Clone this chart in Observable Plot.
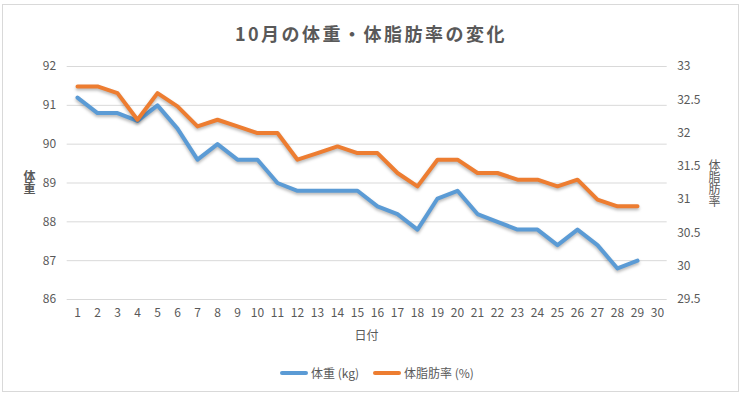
<!DOCTYPE html>
<html>
<head>
<meta charset="utf-8">
<script src="https://cdn.jsdelivr.net/npm/d3@7"></script>
<script src="https://cdn.jsdelivr.net/npm/@observablehq/plot@0.6"></script>
<style>
  html, body { margin: 0; padding: 0; background: #fff; }
  #wrap { position: relative; width: 746px; height: 399px; overflow: hidden;
          font-family: "Noto Sans CJK JP", "Noto Sans", sans-serif; color: #595959; }
  #frame { position: absolute; left: 2px; top: 4px; width: 737px; height: 388px;
           border: 1px solid #d9d9d9; box-sizing: border-box; }
  #title { position: absolute; left: 0; width: 742px; top: 19px; text-align: center;
           font-size: 18px; font-weight: bold; letter-spacing: 2.5px; line-height: 28px; }
  .vt { position: absolute; writing-mode: vertical-rl; text-orientation: upright;
        font-size: 12px; line-height: 14px; }
  #ytl { left: 22px; top: 170px; font-weight: bold; }
  #ytr { left: 707px; top: 159px; }
  #xt { position: absolute; left: 0; width: 733px; top: 326px; text-align: center; font-size: 12px; line-height: 18px; }
  #legend { position: absolute; top: 364px; left: 280px; font-size: 12px; line-height: 18px; display: flex; align-items: center; }
  .sw { display: inline-block; width: 28px; height: 4px; border-radius: 2px; margin-right: 3px; }
  .item { display: flex; align-items: center; }
  #chart { position: absolute; left: 0; top: 0; }
</style>
</head>
<body>
<div id="wrap">
  <div id="frame"></div>
  <div id="chart"></div>
  <div id="title">10月の体重・体脂肪率の変化</div>
  <div id="ytl" class="vt">体重</div>
  <div id="ytr" class="vt">体脂肪率</div>
  <div id="xt">日付</div>
  <div id="legend">
    <div class="item"><span class="sw" style="background:#5B9BD5"></span><span>体重 (kg)</span></div>
    <div class="item" style="margin-left:14px"><span class="sw" style="background:#ED7D31"></span><span>体脂肪率 (%)</span></div>
  </div>
</div>
<script>
const days = [1,2,3,4,5,6,7,8,9,10,11,12,13,14,15,16,17,18,19,20,21,22,23,24,25,26,27,28,29];
const xTicks = [1,2,3,4,5,6,7,8,9,10,11,12,13,14,15,16,17,18,19,20,21,22,23,24,25,26,27,28,29,30];
const weight = [91.2,90.8,90.8,90.6,91.0,90.4,89.6,90.0,89.6,89.6,89.0,88.8,88.8,88.8,88.8,88.4,88.2,87.8,88.6,88.8,88.2,88.0,87.8,87.8,87.4,87.8,87.4,86.8,87.0];
const bodyFat = [32.7,32.7,32.6,32.2,32.6,32.4,32.1,32.2,32.1,32.0,32.0,31.6,31.7,31.8,31.7,31.7,31.4,31.2,31.6,31.6,31.4,31.4,31.3,31.3,31.2,31.3,31.0,30.9,30.9];
const weightTicks = [86,87,88,89,90,91,92];
const fatTicks = [29.5,30,30.5,31,31.5,32,32.5,33];

const wDomain = [86, 92];
const fDomain = [29.5, 33];
// map secondary-axis values (body fat %) onto the primary y scale
const toW = f => wDomain[0] + (f - fDomain[0]) * (wDomain[1] - wDomain[0]) / (fDomain[1] - fDomain[0]);

const rows = days.map((d, i) => ({day: d, weight: weight[i], fat: bodyFat[i]}));

const chart = Plot.plot({
  width: 746,
  height: 399,
  marginLeft: 66.7,
  marginRight: 79.3,
  marginTop: 66,
  marginBottom: 100,
  style: {fontFamily: '"Noto Sans CJK JP", "Noto Sans", sans-serif', fontSize: "12px", color: "#595959", background: "transparent", overflow: "visible"},
  x: {type: "point", domain: xTicks, padding: 0.5, label: null},
  y: {domain: wDomain, label: null},
  marks: [
    Plot.gridY(weightTicks, {stroke: "#d9d9d9", strokeOpacity: 1, strokeWidth: 1}),
    Plot.axisY(weightTicks, {anchor: "left", tickSize: 0, tickPadding: 11, label: null}),
    Plot.text(fatTicks, {y: d => toW(d), text: d => String(d), frameAnchor: "right", textAnchor: "start", dx: 10, fill: "#595959"}),
    Plot.axisX(xTicks, {anchor: "bottom", tickSize: 0, tickPadding: 9, label: null}),
    Plot.line(rows, {x: "day", y: "weight", stroke: "#5B9BD5", strokeWidth: 4, strokeLinejoin: "round", strokeLinecap: "round"}),
    Plot.line(rows, {x: "day", y: d => toW(d.fat), stroke: "#ED7D31", strokeWidth: 4, strokeLinejoin: "round", strokeLinecap: "round"})
  ]
});
document.getElementById("chart").appendChild(chart);
chart.querySelectorAll('g[aria-label="line"] path').forEach(p => {
  p.style.filter = "drop-shadow(0px 2px 1.5px rgba(0,0,0,0.28))";
});
</script>
</body>
</html>
